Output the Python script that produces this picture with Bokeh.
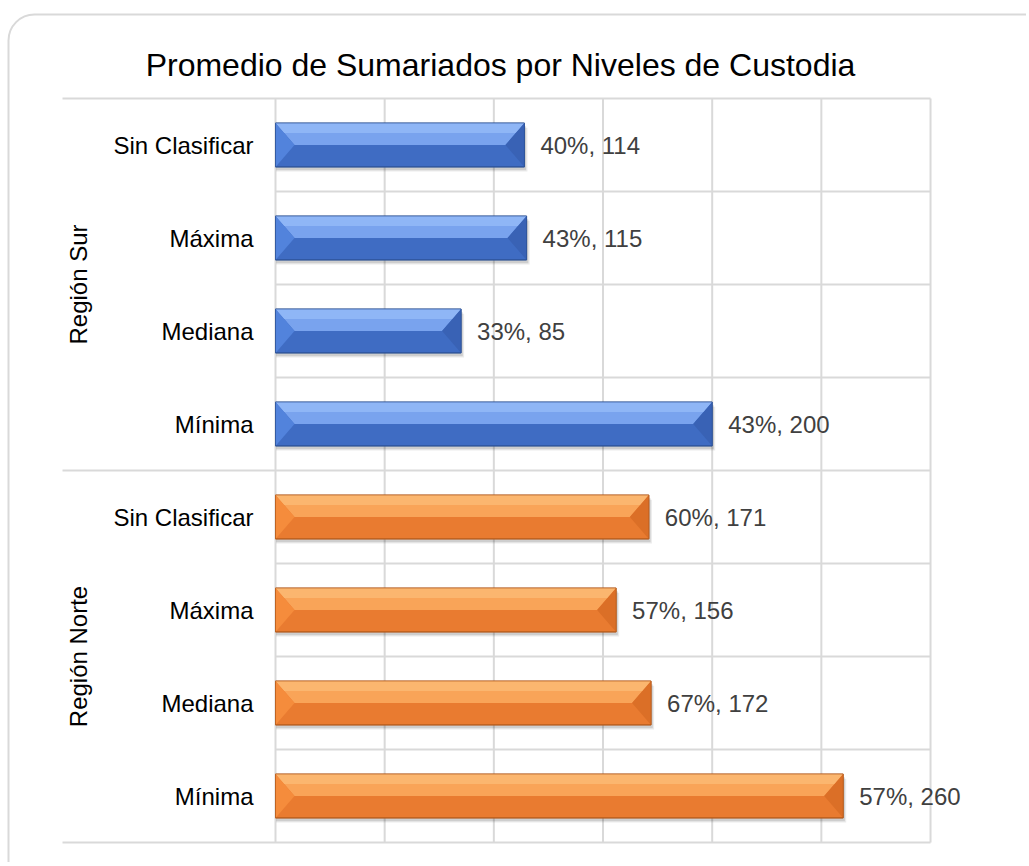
from bokeh.plotting import figure
from bokeh.models import Range1d, FixedTicker, ColumnDataSource, BoxAnnotation
from bokeh.core.properties import value
from bokeh.embed import file_html
from bokeh.resources import INLINE
import math

# ---------------- data ----------------
title = "Promedio de Sumariados por Niveles de Custodia"
regions = ["Región Sur", "Región Norte"]
niveles = ["Sin Clasificar", "Máxima", "Mediana", "Mínima"]
sur_pct = [40, 43, 33, 43]
sur_vals = [114, 115, 85, 200]
norte_pct = [60, 57, 67, 57]
norte_vals = [171, 156, 172, 260]
x_ticks = [0, 50, 100, 150, 200, 250, 300]

FONT = "Liberation Sans"
GRID = "#d9d9d9"

# ---------------- layout (screen px) ----------------
W, H = 1026, 862
ZERO_PX = 275.0          # screen x of value 0
PX_PER_UNIT = 109.17 / 50
TOP_PX, BOT_PX = 98.0, 842.0
n = len(niveles) * len(regions)
ROW_PX = (BOT_PX - TOP_PX) / n

p = figure(width=W, height=H, output_backend="svg", toolbar_location=None,
           x_axis_location=None, y_axis_location=None,
           min_border=0, min_border_left=0, min_border_right=0,
           min_border_top=0, min_border_bottom=0)
p.x_range = Range1d(-ZERO_PX / PX_PER_UNIT, (W - ZERO_PX) / PX_PER_UNIT)
p.y_range = Range1d(-(H - BOT_PX) / ROW_PX, n + TOP_PX / ROW_PX)
p.outline_line_color = None
p.background_fill_color = "white"
p.border_fill_color = "white"

p.xgrid.ticker = FixedTicker(ticks=x_ticks)
p.xgrid.grid_line_color = None
p.ygrid.grid_line_color = None

# rounded outer frame (screen y measured from the bottom)
p.add_layout(BoxAnnotation(left=8, right=W + 40, top=H - 14, bottom=-40,
                           left_units="screen", right_units="screen",
                           top_units="screen", bottom_units="screen",
                           fill_color=None, fill_alpha=0, line_color="#d9d9d9",
                           line_alpha=1.0, line_width=2,
                           border_radius=26, level="underlay"))

# vertical grid lines (only over the plot rows)
p.segment(x0=x_ticks, x1=x_ticks, y0=0, y1=n, line_color=GRID, line_width=2)

# horizontal separators
x_left = -(ZERO_PX - 62) / PX_PER_UNIT
xs0, xs1, ys = [], [], []
for k in range(n + 1):
    xs0.append(x_left if k % len(niveles) == 0 else 0)
    xs1.append(x_ticks[-1])
    ys.append(n - k)
p.segment(x0=xs0, x1=xs1, y0=ys, y1=ys, line_color=GRID, line_width=2)

# title
p.text(x=[0], y=[n], text=[title], x_offset=500 - ZERO_PX, y_offset=-(TOP_PX - 64),
       text_align="center", text_baseline="alphabetic", text_font=value(FONT),
       text_font_size="32px", text_color="#000000")

# ---------------- bars ----------------
styles = {
    "Región Sur": dict(top="#79a3ee", hi="#8fb6f6", low="#3f6cc3", left="#5283dc",
                       right="#3962b5", edge="#2d5294"),
    "Región Norte": dict(top="#f9a458", hi="#fbb66f", low="#e97b30", left="#f58c3c",
                         right="#db6f27", edge="#b35a1c"),
}
bevel = 19 / PX_PER_UNIT
h = 0.236

series = {"Región Sur": (sur_pct, sur_vals), "Región Norte": (norte_pct, norte_vals)}

for gi, reg in enumerate(regions):
    pcts, vals = series[reg]
    st = styles[reg]
    yc = [n - 0.5 - (gi * len(niveles) + i) for i in range(len(niveles))]
    # soft shadow
    p.hbar(y=[y - 0.05 for y in yc], left=0.3, right=[v + 1.4 for v in vals], height=2 * h,
           fill_color="#000000", fill_alpha=0.08, line_color=None)
    p.hbar(y=[y - 0.035 for y in yc], left=0.3, right=[v + 0.8 for v in vals], height=2 * h,
           fill_color="#000000", fill_alpha=0.12, line_color=None)
    # base (lower face)
    p.hbar(y=yc, left=0, right=vals, height=2 * h, fill_color=st["low"],
           line_color=st["edge"], line_width=1)
    tx, ty, hx, hy = [], [], [], []
    lx, ly, rx, ry = [], [], [], []
    for y, v in zip(yc, vals):
        tx.append([0, v, v - bevel, bevel])
        ty.append([y + h, y + h, y, y])
        hx.append([0, v, v - bevel * 0.45, bevel * 0.45])
        hy.append([y + h, y + h, y + h * 0.55, y + h * 0.55])
        lx.append([0, bevel, 0])
        ly.append([y + h, y, y - h])
        rx.append([v, v - bevel, v])
        ry.append([y + h, y, y - h])
    p.patches(xs=tx, ys=ty, fill_color=st["top"], line_color=None)
    p.patches(xs=hx, ys=hy, fill_color=st["hi"], line_color=None)
    p.patches(xs=lx, ys=ly, fill_color=st["left"], line_color=None)
    p.patches(xs=rx, ys=ry, fill_color=st["right"], line_color=None)
    p.hbar(y=yc, left=0, right=vals, height=2 * h, fill_color=None,
           line_color=st["edge"], line_width=1, line_alpha=0.6)

    # data labels
    src = ColumnDataSource(dict(x=vals, y=yc, t=[f"{pc}%, {v}" for pc, v in zip(pcts, vals)]))
    p.text(x="x", y="y", text="t", source=src, x_offset=16, text_align="left",
           text_baseline="middle", text_font=value(FONT), text_font_size="24px",
           text_color="#404040")
    # category labels
    src2 = ColumnDataSource(dict(x=[0] * len(niveles), y=yc, t=niveles))
    p.text(x="x", y="y", text="t", source=src2, x_offset=-22, text_align="right",
           text_baseline="middle", text_font=value(FONT), text_font_size="24px",
           text_color="#000000")
    # group label
    p.text(x=[0], y=[sum(yc) / len(yc)], text=[reg], x_offset=78 - ZERO_PX, angle=math.pi / 2,
           text_align="center", text_baseline="middle", text_font=value(FONT),
           text_font_size="24px", text_color="#000000")

open("out.html", "w").write(file_html(p, INLINE))
